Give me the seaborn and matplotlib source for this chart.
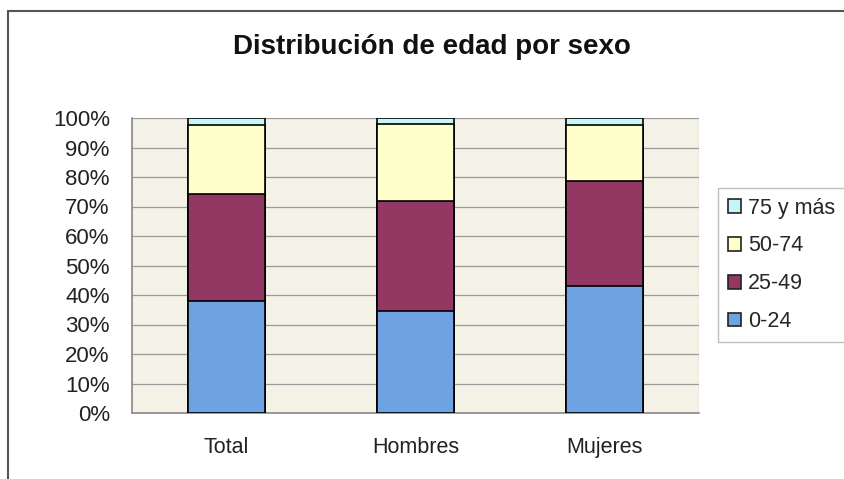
import numpy as np
import pandas as pd
import matplotlib
matplotlib.use("Agg")
import matplotlib.pyplot as plt
from matplotlib.patches import Patch, Rectangle
import seaborn as sns

# data (percent per age group)
grupos = ["Total", "Hombres", "Mujeres"]
edad_0_24 = [37.8, 34.6, 43.1]
edad_25_49 = [36.5, 37.4, 35.5]
edad_50_74 = [23.2, 25.8, 19.0]
edad_75_mas = [2.5, 2.2, 2.4]
series_labels = ["0-24", "25-49", "50-74", "75 y más"]
colores = ["#6EA2E2", "#933862", "#FFFFCC", "#C6F5F8"]

sns.set_style("white")
plt.rcParams["font.family"] = ["Liberation Sans", "DejaVu Sans"]

fig = plt.figure(figsize=(8.44, 4.79), dpi=100)
ax = fig.add_axes([132 / 844, 1 - 413 / 479, (699 - 132) / 844, (413 - 118) / 479])
ax.set_facecolor("#F4F2E6")

vals = np.array([edad_0_24, edad_25_49, edad_50_74, edad_75_mas])
cum = np.cumsum(vals, axis=0)

# draw tallest (cumulative) first so lower ones overlay -> stacked look
for i in range(len(series_labels) - 1, -1, -1):
    df = pd.DataFrame({"grupo": grupos, "valor": cum[i]})
    sns.barplot(data=df, x="grupo", y="valor", color=colores[i], saturation=1,
                width=0.41, edgecolor="black", linewidth=1.2, ax=ax, zorder=3)

ax.set_xlim(-0.5, 2.5)
ax.set_ylim(0, 100)
ax.set_yticks(np.arange(0, 101, 10))
ax.set_yticklabels([f"{v}%" for v in range(0, 101, 10)], fontsize=16, color="#222222")
ax.set_xticks([0, 1, 2])
ax.set_xticklabels(grupos, fontsize=15.5, color="#222222")
ax.set_xticks([-0.5, 0.5, 1.5, 2.5], minor=True)
ax.tick_params(axis="x", which="major", length=0, pad=17)
ax.tick_params(axis="x", which="minor", length=6, color="#888888", width=1)
ax.tick_params(axis="y", length=7, color="#888888", width=1, pad=9)
ax.set_xlabel("")
ax.set_ylabel("")
ax.grid(axis="y", color="#9A9A9A", linewidth=0.9, zorder=0)
ax.set_axisbelow(True)
for s in ["top", "right"]:
    ax.spines[s].set_visible(False)
for s in ["left", "bottom"]:
    ax.spines[s].set_color("#888888")
    ax.spines[s].set_linewidth(1.2)
# the light right border of the plot area
ax.axvline(2.5, color="#C8C8C8", linewidth=1, zorder=1)

fig.text(432 / 844, 1 - 47 / 479, "Distribución de edad por sexo", ha="center",
         va="center", fontsize=20, fontweight="bold", color="#111111")

handles = [Patch(facecolor=colores[i], edgecolor="#222222", linewidth=1.2, label=series_labels[i])
           for i in range(len(series_labels) - 1, -1, -1)]
leg = fig.legend(handles=handles, loc="upper left", bbox_to_anchor=(718 / 844, 1 - 188 / 479),
                 fontsize=15.5, frameon=True, fancybox=False, handlelength=0.6, handleheight=0.6,
                 handletextpad=0.35, labelspacing=0.78, borderpad=0.45, borderaxespad=0)
leg.get_frame().set_edgecolor("#B0B0B0")
leg.get_frame().set_linewidth(1)

# outer chart frame (left and top edges visible)
fig.patches.append(Rectangle((8 / 844, -0.1), 1.2, 1.1 - 11 / 479, transform=fig.transFigure,
                             fill=False, edgecolor="#555555", linewidth=1.5))

fig.savefig("out.png", dpi=100)
